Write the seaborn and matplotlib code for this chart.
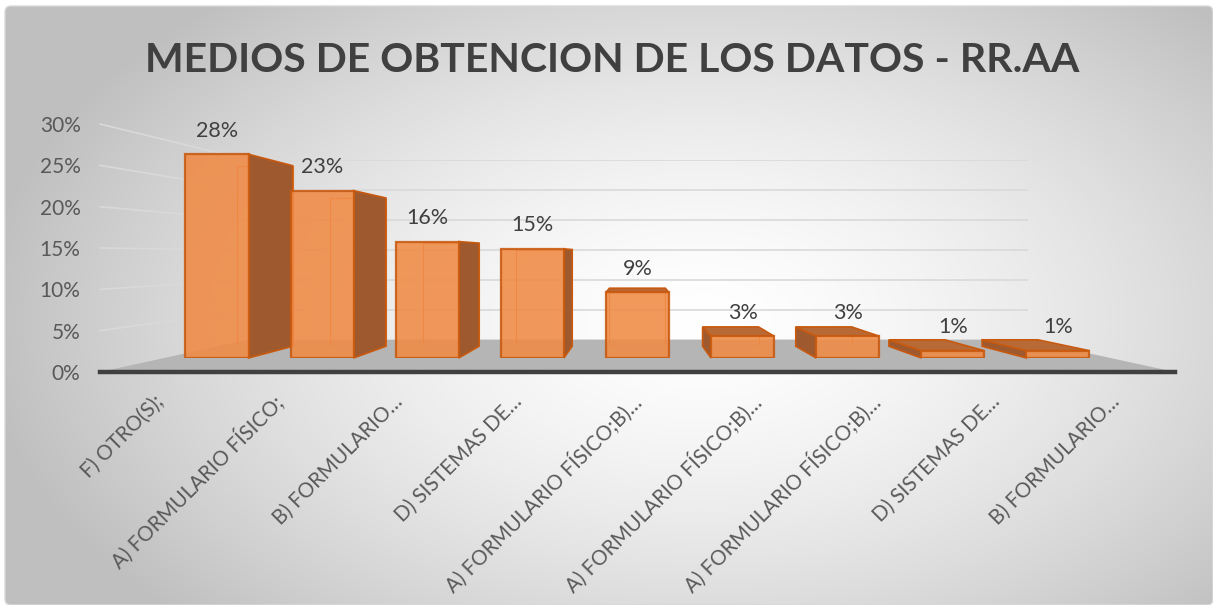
import numpy as np
import pandas as pd
import matplotlib
matplotlib.use("Agg")
import matplotlib.pyplot as plt
import seaborn as sns
from matplotlib.patches import Polygon, FancyBboxPatch
from matplotlib.ticker import PercentFormatter, MultipleLocator
from matplotlib.transforms import ScaledTranslation

# Data
categorias = [
    "F) OTRO(S);",
    "A) FORMULARIO FÍSICO;",
    "B) FORMULARIO…",
    "D) SISTEMAS DE…",
    "A) FORMULARIO FÍSICO;B)…",
    "A) FORMULARIO FÍSICO;B)…",
    "A) FORMULARIO FÍSICO;B)…",
    "D) SISTEMAS DE…",
    "B) FORMULARIO…",
]
porcentajes = [0.28, 0.23, 0.16, 0.15, 0.09, 0.03, 0.03, 0.01, 0.01]
etiquetas = ["28%", "23%", "16%", "15%", "9%", "3%", "3%", "1%", "1%"]
titulo = "MEDIOS DE OBTENCION DE LOS DATOS - RR.AA"

df = pd.DataFrame({"cat": range(len(categorias)), "pct": porcentajes})

sns.set_theme(style="white")
plt.rcParams["font.family"] = ["Lato", "DejaVu Sans"]

W, H = 1213, 605
fig = plt.figure(figsize=(W / 100, H / 100), dpi=100)
fig.patch.set_facecolor("white")

# background gradient (Excel style radial fill)
bg = fig.add_axes([0, 0, 1, 1], zorder=-5)
yy, xx = np.mgrid[0:H, 0:W]
d = np.sqrt(((xx - 700) / 720.0) ** 2 + ((yy - 320) / 430.0) ** 2)
g = 1.0 - 0.25 * np.clip(d, 0, 1) ** 1.5
bg.imshow(np.dstack([g, g, g]), extent=(0, W, 0, H), origin="upper", aspect="auto")
bg.set_xlim(0, W)
bg.set_ylim(0, H)
bg.axis("off")
frame = FancyBboxPatch((5, 0), W - 5, H - 6, boxstyle="round,pad=0,rounding_size=6",
                       fc="none", ec="#D9D9D9", lw=1, transform=bg.transData)
bg.add_patch(frame)
bg.images[0].set_clip_path(frame)

# perspective: planes are the floor-front axes scaled toward a vanishing point
vx, vy = 637 / W, 1 - 255 / H
base = [100 / W, 1 - 372 / H, (1175 - 100) / W, (372 - 124) / H]


def plane(s, z):
    l, b, w, h = base
    nl = vx + (l - vx) * s
    nb = vy + (b - vy) * s
    a = fig.add_axes([nl, nb, w * s, h * s], zorder=z)
    a.set_xlim(-0.5, len(categorias) - 0.5)
    a.set_ylim(0, 0.30)
    a.patch.set_alpha(0)
    for sp in a.spines.values():
        sp.set_visible(False)
    return a


ax_wall = plane(0.726, 0)
ax_back = plane(0.78, 1)
ax_front = plane(0.88, 3)
ax_floor = plane(1.0, 4)

# back wall gridlines
ax_wall.yaxis.set_major_locator(MultipleLocator(0.05))
ax_wall.grid(axis="y", color="#D9D9D9", lw=1.2)
ax_wall.set_xticks([])
ax_wall.tick_params(left=False, labelleft=False)

to_fig = fig.transFigure.inverted()


def pt(ax, x, y):
    return to_fig.transform(ax.transData.transform((x, y)))


x0, x1 = -0.5, len(categorias) - 0.5
# side wall gridlines
for v in np.arange(0.05, 0.301, 0.05):
    a, b = pt(ax_floor, x0, v), pt(ax_wall, x0, v)
    fig.add_artist(plt.Line2D([a[0], b[0]], [a[1], b[1]], color="#D9D9D9", lw=1.2,
                              transform=fig.transFigure, zorder=0.2))

# floor
floor = [pt(ax_floor, x0, 0), pt(ax_floor, x1, 0), pt(ax_wall, x1, 0), pt(ax_wall, x0, 0)]
fig.add_artist(Polygon(floor, closed=True, fc="#B5B5B5", ec="none",
                       transform=fig.transFigure, zorder=0.5))

# bars: back plane (for geometry) and front plane
sns.barplot(data=df, x="cat", y="pct", ax=ax_back, width=0.6, native_scale=True,
            color="#ED7D31", fill=False, edgecolor="#E27A36", linewidth=0.8)
sns.barplot(data=df, x="cat", y="pct", ax=ax_front, width=0.6, native_scale=True,
            color="#F08A45", alpha=0.88, edgecolor="#C8590F", linewidth=1.6,
            saturation=1)
for a in (ax_back, ax_front):
    a.set_xlim(x0, x1)
    a.set_ylim(0, 0.30)
    a.set_xlabel("")
    a.set_ylabel("")
    a.set_xticks([])
    a.tick_params(left=False, labelleft=False)

for pf, pb in zip(ax_front.patches, ax_back.patches):
    f = to_fig.transform(ax_front.transData.transform(pf.get_bbox().get_points()))
    b = to_fig.transform(ax_back.transData.transform(pb.get_bbox().get_points()))
    fx0, fy0, fx1, fy1 = f[0][0], f[0][1], f[1][0], f[1][1]
    bx0, by0, bx1, by1 = b[0][0], b[0][1], b[1][0], b[1][1]
    cx = (fx0 + fx1) / 2
    if cx < vx - 0.005:
        side = [(fx1, fy0), (fx1, fy1), (bx1, by1), (bx1, by0)]
    elif cx > vx + 0.005:
        side = [(fx0, fy0), (fx0, fy1), (bx0, by1), (bx0, by0)]
    else:
        side = None
    if side is not None:
        fig.add_artist(Polygon(side, closed=True, fc="#9E5A2E", ec="#C8590F", lw=1.2,
                               transform=fig.transFigure, zorder=2))
    if fy1 < vy:
        top = [(fx0, fy1), (fx1, fy1), (bx1, by1), (bx0, by1)]
        fig.add_artist(Polygon(top, closed=True, fc="#B86A36", ec="#C8590F", lw=1.2,
                               transform=fig.transFigure, zorder=2))

# data labels
for i, (v, t) in enumerate(zip(porcentajes, etiquetas)):
    ax_front.annotate(t, (i, v), xytext=(0, 17), textcoords="offset points",
                      ha="center", va="center", fontsize=15.5, color="#404040")

# floor front axis: category labels, y labels, front edge
ax_floor.spines["bottom"].set_visible(True)
ax_floor.spines["bottom"].set_color("#404040")
ax_floor.spines["bottom"].set_linewidth(3.2)
ax_floor.yaxis.set_major_locator(MultipleLocator(0.05))
ax_floor.yaxis.set_major_formatter(PercentFormatter(1.0, decimals=0))
ax_floor.set_xticks(range(len(categorias)))
ax_floor.set_xticklabels(categorias, rotation=45, ha="right", va="center",
                         rotation_mode="anchor")
ax_floor.tick_params(axis="x", length=0, pad=19, labelsize=14.8, labelcolor="#595959")
ax_floor.tick_params(axis="y", length=0, pad=14, labelsize=15, labelcolor="#595959")
for lab in ax_floor.get_xticklabels():
    lab.set_transform(lab.get_transform() + ScaledTranslation(0.01, 0, fig.dpi_scale_trans))

fig.text(0.505, 1 - 61 / H, titulo, ha="center", va="center", fontsize=29.5,
         fontweight="bold", color="#404040")

fig.savefig("out.png", dpi=100)
